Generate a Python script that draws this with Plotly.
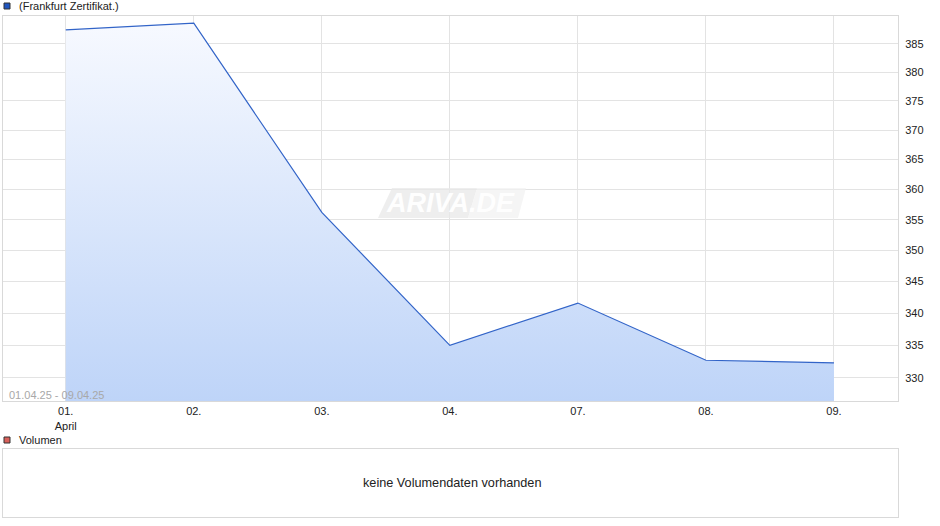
import math
import plotly.graph_objects as go

# Kursdaten (Frankfurt Zertifikat), 01.04.25 - 09.04.25
TAGE = ["01.", "02.", "03.", "04.", "07.", "08.", "09."]
TICK_TEXT = ["01.<br>April", "02.", "03.", "04.", "07.", "08.", "09."]
KURS = [387.5, 388.7, 356.2, 335.0, 341.6, 332.7, 332.3]
Y_TICKS = [330, 335, 340, 345, 350, 355, 360, 365, 370, 375, 380, 385]
Y_MIN, Y_MAX = 326.5, 390.0  # logarithmische Achse

LINIE = "#3264c8"
RAHMEN = "#d9d9d9"
GITTER = "#e3e3e3"
FONT = "Liberation Sans, Arial, sans-serif"

W, H = 940, 526
L, R, T, B = 3, 42, 16, 9
PW, PH = W - L - R, H - T - B


def px_x(x):
    return (x - L) / PW


def px_y(y):
    return (H - B - y) / PH


fig = go.Figure()

# Basislinie am unteren Rand, damit die Fläche bis dorthin gefüllt wird
fig.add_trace(go.Scatter(
    x=TAGE, y=[Y_MIN] * len(TAGE),
    mode="lines", line=dict(width=0, color="rgba(0,0,0,0)"),
    hoverinfo="skip", showlegend=False,
))
fig.add_trace(go.Scatter(
    x=TAGE,
    y=KURS,
    mode="lines",
    line=dict(color=LINIE, width=1.2),
    fill="tonexty",
    fillgradient=dict(
        type="vertical",
        start=Y_MIN,
        stop=Y_MAX,
        colorscale=[[0, "rgb(190,212,248)"], [1, "rgb(248,250,255)"]],
    ),
    hoverinfo="skip",
    showlegend=False,
))

# leeres Volumen-Panel
fig.add_trace(go.Scatter(x=[None], y=[None], xaxis="x2", yaxis="y2",
                         showlegend=False, hoverinfo="skip"))

fig.update_layout(
    width=W, height=H,
    margin=dict(l=L, r=R, t=T, b=B),
    paper_bgcolor="white",
    plot_bgcolor="white",
    font=dict(family=FONT, size=11, color="#222222"),
    xaxis=dict(
        domain=[0, 1], anchor="y",
        type="category",
        range=[-0.49, 6.5],
        tickvals=TAGE, ticktext=TICK_TEXT,
        showgrid=True, gridcolor=GITTER, gridwidth=1,
        showline=True, linecolor=RAHMEN, mirror=True,
        ticks="", tickfont=dict(size=11),
        zeroline=False,
    ),
    yaxis=dict(
        domain=[px_y(401), 1], anchor="x",
        side="right",
        type="log",
        range=[math.log10(Y_MIN), math.log10(Y_MAX)],
        tickvals=Y_TICKS, ticktext=[str(v) for v in Y_TICKS],
        showgrid=True, gridcolor=GITTER, gridwidth=1,
        showline=True, linecolor=RAHMEN, mirror=True,
        ticks="outside", ticklen=4, tickcolor="rgba(0,0,0,0)",
        zeroline=False,
    ),
    xaxis2=dict(
        domain=[0, 1], anchor="y2",
        showgrid=False, showticklabels=False, zeroline=False,
        showline=True, linecolor=RAHMEN, mirror=True,
    ),
    yaxis2=dict(
        domain=[0, px_y(449)], anchor="x2",
        showgrid=False, showticklabels=False, zeroline=False,
        showline=True, linecolor=RAHMEN, mirror=True,
    ),
)

# Legenden-Kästchen
fig.add_shape(type="rect", xref="paper", yref="paper",
              x0=px_x(4), x1=px_x(10), y0=px_y(9), y1=px_y(3),
              fillcolor="#1f55c0", line=dict(color="#333333", width=1))
fig.add_shape(type="rect", xref="paper", yref="paper",
              x0=px_x(4), x1=px_x(10), y0=px_y(443), y1=px_y(437),
              fillcolor="#d9605a", line=dict(color="#333333", width=1))

fig.add_annotation(text="(Frankfurt Zertifikat.)", xref="paper", yref="paper",
                   x=px_x(17), y=px_y(6), xanchor="left", yanchor="middle",
                   showarrow=False, font=dict(size=11, color="#222222"))
fig.add_annotation(text="Volumen", xref="paper", yref="paper",
                   x=px_x(17), y=px_y(440), xanchor="left", yanchor="middle",
                   showarrow=False, font=dict(size=11, color="#222222"))
fig.add_annotation(text="keine Volumendaten vorhanden", xref="paper", yref="paper",
                   x=px_x(452), y=px_y(483), xanchor="center", yanchor="middle",
                   showarrow=False, font=dict(size=12.7, color="#222222"))
fig.add_annotation(text="01.04.25 - 09.04.25", xref="paper", yref="paper",
                   x=px_x(7), y=px_y(395), xanchor="left", yanchor="middle",
                   showarrow=False, font=dict(size=11, color="#a8a8a8"))


# Wasserzeichen: schräges Band mit Schrift
def pfad(punkte):
    return "M " + " L ".join(f"{px_x(a)},{px_y(b)}" for a, b in punkte) + " Z"


fig.add_shape(type="path", xref="paper", yref="paper",
              path=pfad([(392, 188), (477, 188), (468, 218), (378, 218)]),
              fillcolor="rgba(232,232,232,0.75)", line=dict(width=0))
fig.add_shape(type="path", xref="paper", yref="paper",
              path=pfad([(477, 188), (526, 188), (518, 218), (468, 218)]),
              fillcolor="rgba(242,242,242,0.75)", line=dict(width=0))
fig.add_annotation(text="ARIVA.DE", xref="paper", yref="paper",
                   x=px_x(450), y=px_y(203), xanchor="center", yanchor="middle",
                   showarrow=False,
                   font=dict(size=27, color="rgba(255,255,255,0.97)",
                             style="italic", weight="bold"))

fig.write_html("out.html", config={"displayModeBar": False},
               post_script="document.body.style.margin='0';")
